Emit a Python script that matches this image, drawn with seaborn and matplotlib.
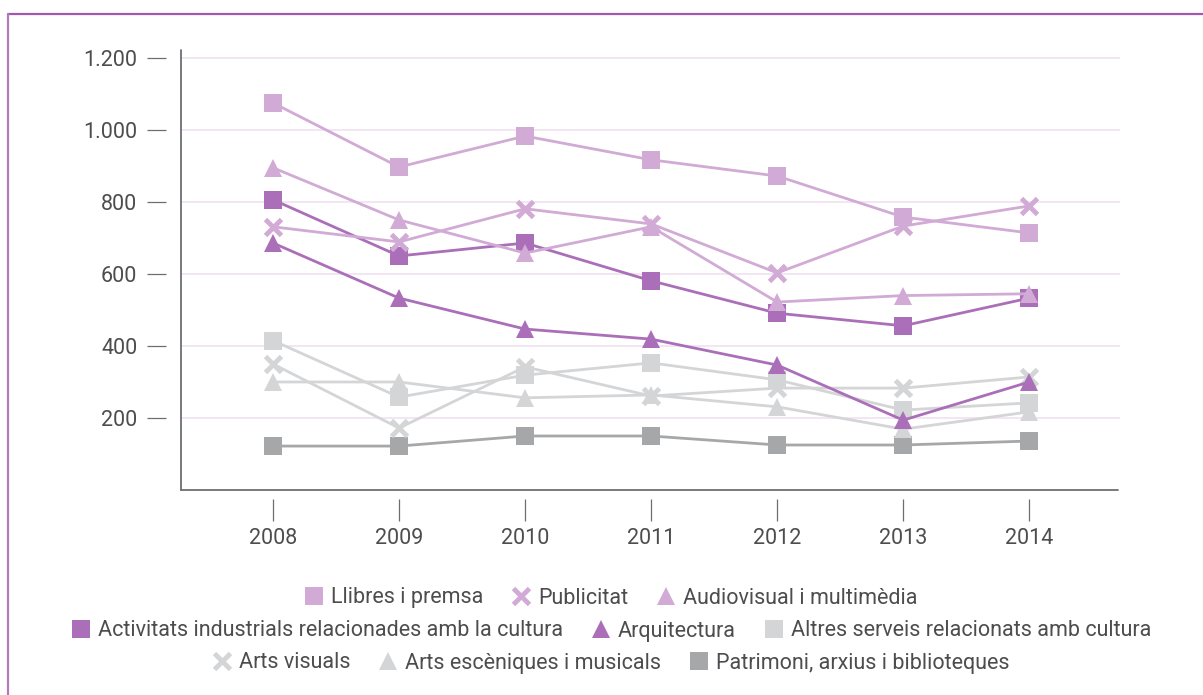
import pandas as pd
import matplotlib
matplotlib.use("Agg")
import matplotlib.pyplot as plt
from matplotlib.lines import Line2D
import seaborn as sns

# Data
years = [2008, 2009, 2010, 2011, 2012, 2013, 2014]
llibres = [1075, 897, 983, 917, 872, 758, 714]
publicitat = [731, 689, 781, 739, 603, 733, 789]
audiovisual = [895, 750, 658, 731, 522, 540, 545]
activitats = [806, 650, 686, 581, 491, 456, 533]
arquitectura = [686, 533, 447, 419, 347, 194, 300]
altres = [415, 258, 319, 353, 306, 222, 242]
arts_visuals = [350, 172, 342, 261, 283, 283, 314]
arts_esceniques = [300, 300, 256, 264, 231, 169, 217]
patrimoni = [122, 122, 150, 150, 125, 125, 136]

y_ticks = [200, 400, 600, 800, 1000, 1200]
y_tick_labels = ['200', '400', '600', '800', '1.000', '1.200']

series_names = ['Llibres i premsa', 'Publicitat', 'Audiovisual i multimèdia',
                'Activitats industrials relacionades amb la cultura', 'Arquitectura',
                'Altres serveis relacionats amb cultura',
                'Arts visuals', 'Arts escèniques i musicals', 'Patrimoni, arxius i biblioteques']
series_values = [llibres, publicitat, audiovisual, activitats, arquitectura, altres,
                 arts_visuals, arts_esceniques, patrimoni]

LIGHT_PURPLE = '#d1aad5'
MID_PURPLE = '#aa6fb8'
LIGHT_GRAY = '#d4d5d7'
DARK_GRAY = '#a6a7a9'
colors = [LIGHT_PURPLE, LIGHT_PURPLE, LIGHT_PURPLE, MID_PURPLE, MID_PURPLE,
          LIGHT_GRAY, LIGHT_GRAY, LIGHT_GRAY, DARK_GRAY]
markers = ['s', 'x', '^', 's', '^', 's', 'x', '^', 's']

rows = []
for name, vals in zip(series_names, series_values):
    for yr, v in zip(years, vals):
        rows.append({'year': yr, 'value': v, 'serie': name})
df = pd.DataFrame(rows)

sns.set_style('white')
plt.rcParams['font.family'] = ['Roboto', 'DejaVu Sans']
TEXT = '#4d4d4f'
AXIS = '#6d6e70'
FS = 15.5

fig = plt.figure(figsize=(12.03, 6.95), dpi=100)
ax = fig.add_axes([181 / 1203, 1 - 490 / 695, (1120 - 181) / 1203, 440 / 695])

# lines (drawn in reverse so the purple ones sit on top)
for name, col, mk in list(zip(series_names, colors, markers))[::-1]:
    sub = df[df['serie'] == name]
    sns.lineplot(data=sub, x='year', y='value', color=col, lw=2.0, ax=ax,
                 marker=mk, markersize=13 if mk != 'x' else 11,
                 markeredgewidth=0 if mk != 'x' else 3.5,
                 markeredgecolor=col, markerfacecolor=col, legend=False)

ax.set_xlim(2007.27, 2014.72)
ax.set_ylim(0, 1222)
ax.set_yticks(y_ticks)
ax.set_yticklabels(y_tick_labels)
ax.set_xticks(years)
ax.set_xticklabels([str(y) for y in years])
ax.set_xlabel('')
ax.set_ylabel('')

for y in y_ticks:
    ax.axhline(y, color='#f0e1f1', lw=1.2, zorder=0)

for s in ['top', 'right']:
    ax.spines[s].set_visible(False)
ax.spines['left'].set_position(('outward', 10.8))
ax.spines['bottom'].set_position(('outward', 6.5))
ax.spines['left'].set_visible(False)
ax.spines['bottom'].set_visible(False)
ax.axvline(2007.27, color=AXIS, lw=1.3, clip_on=False)
ax.axhline(0, xmax=0.998, color=AXIS, lw=1.3, clip_on=False)

ax.tick_params(axis='y', direction='out', length=13.7, width=0.9, color=AXIS,
               pad=7, labelsize=FS, labelcolor=TEXT, left=True)
ax.tick_params(axis='x', direction='out', length=16, width=0.9, color=AXIS,
               pad=5, labelsize=FS, labelcolor=TEXT, bottom=True)

# legend, three centered rows
def handle(col, mk):
    return Line2D([], [], linestyle='none', marker=mk, color=col,
                  markersize=13 if mk != 'x' else 11,
                  markeredgewidth=0 if mk != 'x' else 3.5, markeredgecolor=col)

row_y = [1 - 598 / 695, 1 - 631 / 695, 1 - 663 / 695]
for r in range(3):
    idx = range(r * 3, r * 3 + 3)
    hs = [handle(colors[i], markers[i]) for i in idx]
    labs = [series_names[i] for i in idx]
    leg = fig.legend(hs, labs, loc='center', bbox_to_anchor=(611 / 1203, row_y[r]),
                     ncol=3, frameon=False, fontsize=FS, handlelength=0.9,
                     handletextpad=0.35, columnspacing=1.3, borderpad=0)
    for t in leg.get_texts():
        t.set_color(TEXT)

# purple frame
fig.add_artist(Line2D([8 / 1203, 1], [1 - 14 / 695, 1 - 14 / 695], color='#a257b1', lw=1.6))
fig.add_artist(Line2D([8 / 1203, 8 / 1203], [0, 1 - 14 / 695], color='#b07dbc', lw=1.6))

fig.savefig('out.png', dpi=100)
